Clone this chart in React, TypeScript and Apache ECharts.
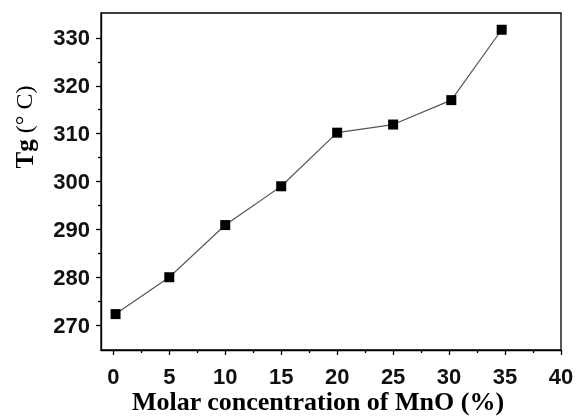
import React, { useEffect, useRef } from "react";
import * as echarts from "echarts";

const molarMnO = [0.2, 5, 10, 15, 20, 25, 30.2, 34.7];
const tgValues = [272.3, 280.0, 290.9, 299.0, 310.2, 311.9, 317.0, 331.7];
const xMajorTicks = [0, 5, 10, 15, 20, 25, 30, 35, 40];
const xMinorTicks = [2.5, 7.5, 12.5, 17.5, 22.5, 27.5, 32.5, 37.5];
const yMajorTicks = [270, 280, 290, 300, 310, 320, 330];
const yMinorTicks = [275, 285, 295, 305, 315, 325];
const xTitle = "Molar concentration of MnO (%)";

export default function App() {
  const ref = useRef<HTMLDivElement>(null);
  useEffect(() => {
    if (!ref.current) return;
    const chart = echarts.init(ref.current, null, { renderer: "svg" });
    const xMin = -1.1, xMax = 40, yMin = 264.8, yMax = 335.2;
    const labelFont = { fontFamily: "Liberation Sans", fontSize: 22, fontWeight: "bold" as const, color: "#111" };
    const tickStyle = { color: "#000", width: 1.3 };
    chart.setOption({
      animation: false,
      grid: { left: 101, top: 13, right: 16, bottom: 66, show: true, borderColor: "#000", borderWidth: 1.3, backgroundColor: "transparent" },
      xAxis: [
        {
          type: "value", min: xMin, max: xMax, position: "bottom",
          axisLine: { show: true, onZero: false, lineStyle: tickStyle },
          axisTick: { show: true, customValues: xMajorTicks, length: 5, inside: false, lineStyle: tickStyle },
          axisLabel: { show: true, customValues: xMajorTicks, margin: 15, ...labelFont },
          splitLine: { show: false },
        },
        {
          type: "value", min: xMin, max: xMax, position: "bottom",
          axisLine: { show: false, onZero: false },
          axisTick: { show: true, customValues: xMinorTicks, length: 3, lineStyle: tickStyle },
          axisLabel: { show: false },
          splitLine: { show: false },
        },
      ],
      yAxis: [
        {
          type: "value", min: yMin, max: yMax, position: "left",
          axisLine: { show: true, onZero: false, lineStyle: tickStyle },
          axisTick: { show: true, customValues: yMajorTicks, length: 5, lineStyle: tickStyle },
          axisLabel: { show: true, customValues: yMajorTicks, margin: 11, ...labelFont },
          splitLine: { show: false },
        },
        {
          type: "value", min: yMin, max: yMax, position: "left",
          axisLine: { show: false, onZero: false },
          axisTick: { show: true, customValues: yMinorTicks, length: 3, lineStyle: tickStyle },
          axisLabel: { show: false },
          splitLine: { show: false },
        },
      ],
      graphic: [
        {
          type: "text", x: 318, y: 401,
          style: { text: xTitle, font: "bold 26px 'Liberation Serif'", fill: "#000", textAlign: "center", textVerticalAlign: "middle" },
        },
        {
          type: "text", x: 24, y: 127, rotation: Math.PI / 2,
          style: {
            text: "{b|Tg}{n| (° C)}", textAlign: "center", textVerticalAlign: "middle", fill: "#000",
            rich: {
              b: { font: "bold 25px 'Liberation Serif'", fill: "#000" },
              n: { font: "24px 'Liberation Serif'", fill: "#000" },
            },
          },
        },
      ],
      series: [
        {
          type: "line", xAxisIndex: 0, yAxisIndex: 0,
          data: molarMnO.map((x, i) => [x, tgValues[i]]),
          symbol: "rect", symbolSize: 10,
          itemStyle: { color: "#000" },
          lineStyle: { color: "#555", width: 1.2 },
        },
      ],
    });
    return () => chart.dispose();
  }, []);
  return <div ref={ref} style={{ width: 577, height: 416, position: "fixed", left: 0, top: 0 }} />;
}
